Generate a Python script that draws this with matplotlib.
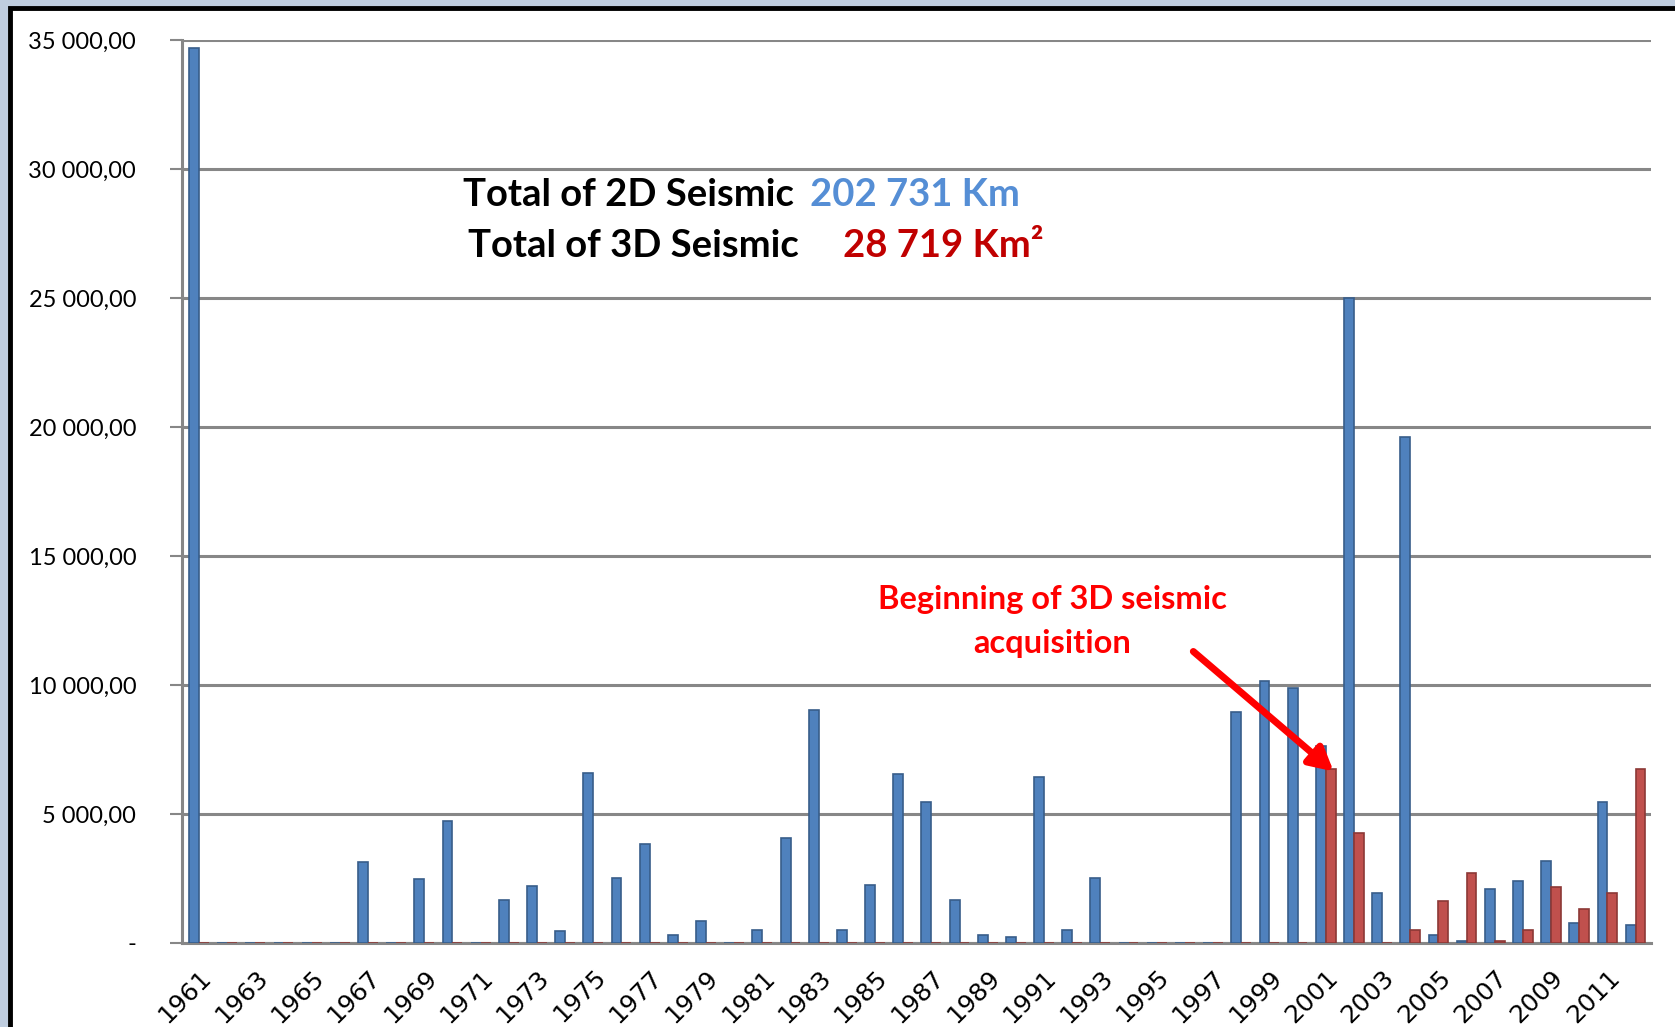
import matplotlib.pyplot as plt
import numpy as np
from matplotlib.patches import Rectangle
from matplotlib.ticker import FuncFormatter

# données
years = list(range(1961, 2013))
seismic_2d = [34700, 0, 0, 0, 0, 0, 3150, 0, 2480, 4720,
              0, 1650, 2200, 450, 6600, 2500, 3820, 320, 860, 0,
              500, 4060, 9050, 500, 2250, 6550, 5480, 1680, 300, 230,
              6420, 500, 2520, 0, 0, 0, 0, 8950, 10150, 9900,
              7650, 25000, 1950, 19600, 320, 60, 2100, 2400, 3170, 760,
              5480, 700]
seismic_3d = [0] * 40 + [6750, 4250, 0, 490, 1620, 2700, 60, 500, 2180, 1320,
                         1920, 6750]
y_ticks = [0, 5000, 10000, 15000, 20000, 25000, 30000, 35000]

BLUE = '#4F81BD'
RED = '#C0504D'
GRID = '#878787'


def fmt_tick(v, pos):
    if v == 0:
        return '-'
    return f'{v:,.2f}'.replace(',', ' ').replace('.', ',')


def main():
    fig = plt.figure(figsize=(16.75, 10.27), dpi=100)
    fig.patch.set_facecolor('#BFCDDF')

    # cadre blanc avec bordure noire
    frame = Rectangle((0.006, -0.05), 1.05, 1.042, transform=fig.transFigure,
                      facecolor='white', edgecolor='black', linewidth=3.5,
                      zorder=0)
    fig.patches.append(frame)

    ax = fig.add_axes([0.1087, 0.0818, 0.877, 0.8792])
    ax.set_zorder(2)
    ax.set_facecolor('none')

    x = np.arange(len(years))
    w = 0.35
    ax.bar(x - w / 2, seismic_2d, width=w, color=BLUE, edgecolor='#385D8A',
           linewidth=1.2, zorder=3)
    ax.bar(x + w / 2, seismic_3d, width=w, color=RED, edgecolor='#8C3836',
           linewidth=1.2, zorder=3)

    ax.set_xlim(-0.6, len(years) - 0.45)
    ax.set_ylim(0, 35000)
    ax.set_yticks(y_ticks)
    ax.yaxis.set_major_formatter(FuncFormatter(fmt_tick))
    ax.yaxis.grid(True, color=GRID, linewidth=2.2, zorder=1)
    ax.set_axisbelow(True)

    for s in ['top', 'right']:
        ax.spines[s].set_visible(False)
    ax.spines['left'].set_color(GRID)
    ax.spines['left'].set_linewidth(2.2)
    ax.spines['bottom'].set_color(GRID)
    ax.spines['bottom'].set_linewidth(2.2)

    ax.tick_params(axis='y', colors=GRID, length=9, width=1.5, pad=24,
                   labelcolor='black', labelsize=17)
    for lab in ax.get_yticklabels():
        lab.set_fontfamily('Lato')

    ax.set_xticks(x[::2])
    ax.set_xticklabels([str(y) for y in years[::2]], rotation=45, ha='right',
                       rotation_mode='anchor', fontsize=18, family='DejaVu Sans')
    ax.tick_params(axis='x', length=0, pad=16)

    # totaux
    tfont = dict(fontsize=27.5, fontweight='bold', family='Lato',
                 transform=fig.transFigure, va='center', ha='left', zorder=3)
    fig.text(463 / 1675, 1 - 195 / 1027, 'Total of 2D Seismic', color='black', **tfont)
    fig.text(810 / 1675, 1 - 195 / 1027, '202 731 Km', color='#558ED5', **tfont)
    fig.text(468 / 1675, 1 - 246 / 1027, 'Total of 3D Seismic', color='black', **tfont)
    fig.text(843 / 1675, 1 - 246 / 1027, '28 719 Km²', color='#C00000', **tfont)

    # annotation début 3D
    i0 = years.index(2001)
    ax.annotate('', xy=(x[i0] + w * 0.8, seismic_3d[i0] - 100),
                xytext=(35.3, 11300),
                arrowprops=dict(arrowstyle='-|>,head_length=1.4,head_width=0.75',
                                color='#FF0000', lw=5, shrinkA=0, shrinkB=0),
                zorder=5)
    afont = dict(color='#FF0000', fontsize=23.5, fontweight='bold', family='Lato',
                 ha='center', va='center', zorder=3)
    fig.text(1052 / 1675, 1 - 600 / 1027, 'Beginning of 3D seismic', **afont)
    fig.text(1052 / 1675, 1 - 644 / 1027, 'acquisition', **afont)

    plt.savefig('out.png', dpi=100, facecolor=fig.get_facecolor())


if __name__ == "__main__":
    main()
